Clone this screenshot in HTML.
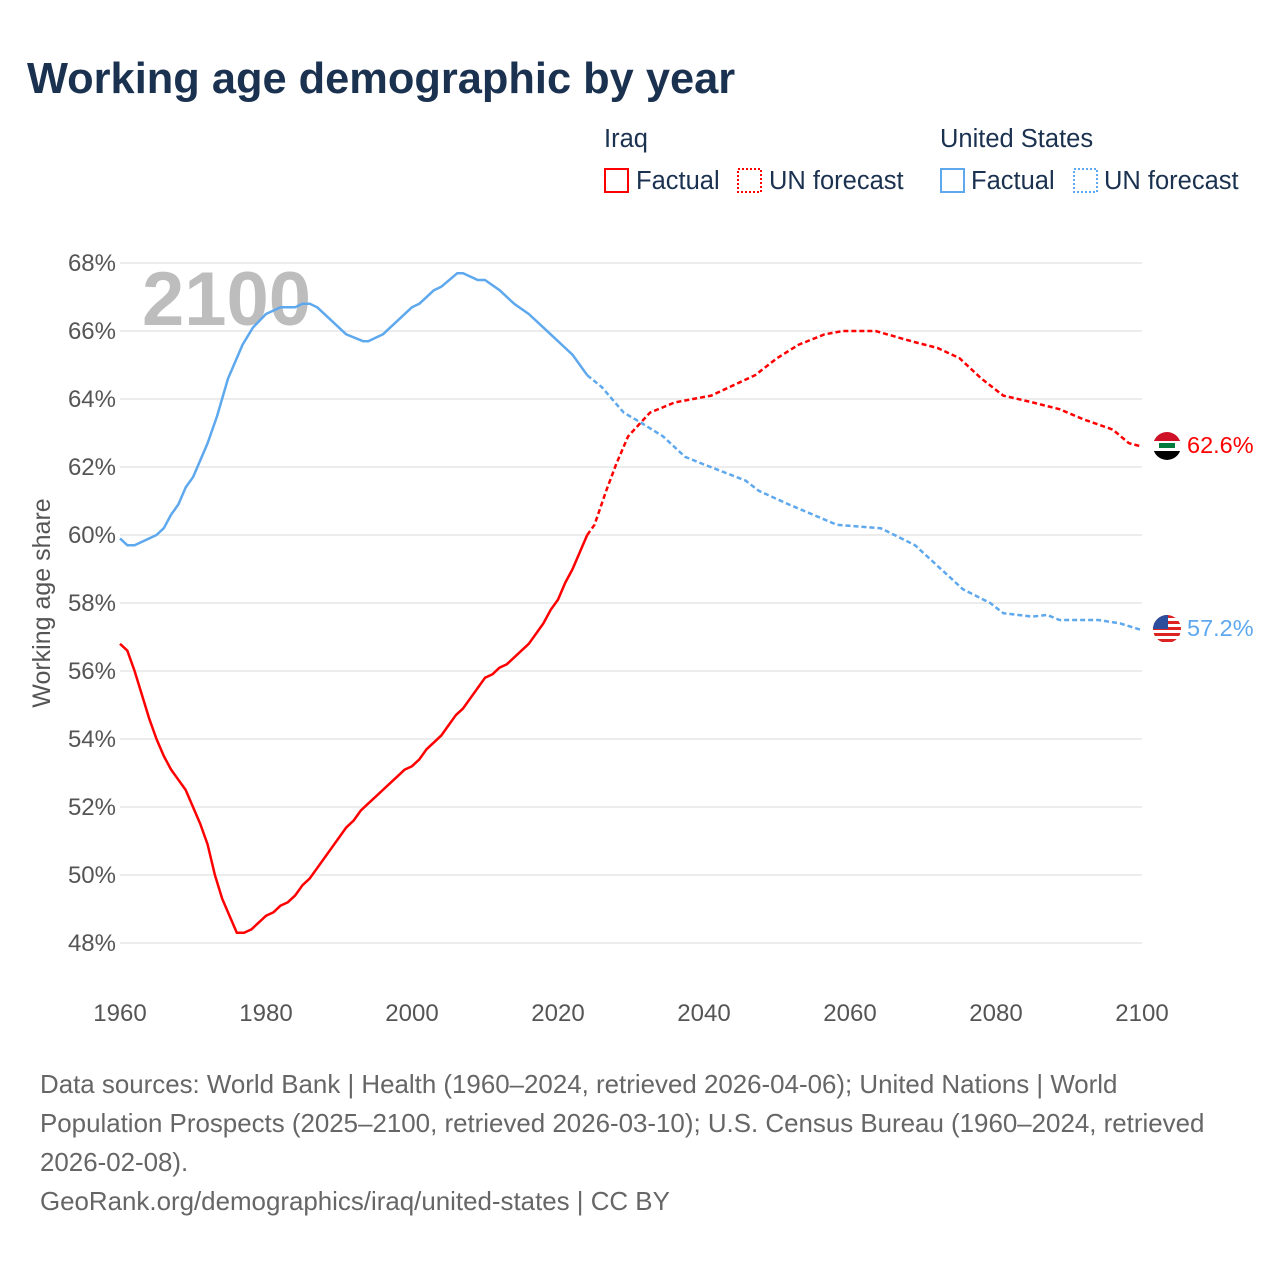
<!DOCTYPE html>
<html><head><meta charset="utf-8"><style>
body{margin:0;background:#fff;font-family:"Liberation Sans",sans-serif;}
svg{display:block}
</style></head><body>
<svg id="chart" width="1280" height="1280" xmlns="http://www.w3.org/2000/svg" font-family="Liberation Sans, sans-serif">
<text x="27" y="93" font-size="43.4" font-weight="bold" fill="#1b3150">Working age demographic by year</text>
<g font-size="25.5" fill="#1b3150">
<text x="604" y="147">Iraq</text>
<text x="940" y="147">United States</text>
<rect x="605" y="169" width="23" height="23" fill="none" stroke="#ff0000" stroke-width="2"/>
<text x="636" y="189">Factual</text>
<rect x="738" y="169" width="23" height="23" fill="none" stroke="#ff0000" stroke-width="2" stroke-dasharray="2,2"/>
<text x="769" y="189">UN forecast</text>
<rect x="941" y="169" width="23" height="23" fill="none" stroke="#5ea8ee" stroke-width="2"/>
<text x="971" y="189">Factual</text>
<rect x="1074" y="169" width="23" height="23" fill="none" stroke="#5ea8ee" stroke-width="2" stroke-dasharray="2,2"/>
<text x="1104" y="189">UN forecast</text>
</g>
<g id="grid"></g>
<text x="142" y="325" font-size="76" font-weight="bold" fill="#bdbdbd">2100</text>
<g id="axes"></g>
<text transform="translate(50,603) rotate(-90)" text-anchor="middle" font-size="25" fill="#555">Working age share</text>
<g id="series"></g>
<g>
<clipPath id="ci"><circle cx="1167" cy="446" r="14"/></clipPath>
<g clip-path="url(#ci)"><rect x="1150" y="430" width="34" height="11" fill="#ce1126"/><rect x="1150" y="441" width="34" height="10" fill="#fff"/><rect x="1150" y="451" width="34" height="12" fill="#000"/><rect x="1159" y="443" width="16" height="5" fill="#007a3d"/></g>
</g>
<g>
<clipPath id="cu"><circle cx="1167" cy="629" r="14"/></clipPath>
<g clip-path="url(#cu)"><rect x="1150" y="613" width="34" height="32" fill="#fff"/>
<rect x="1150" y="615" width="34" height="3" fill="#d22"/><rect x="1150" y="621" width="34" height="3" fill="#d22"/><rect x="1150" y="627" width="34" height="3" fill="#d22"/><rect x="1150" y="633" width="34" height="3" fill="#d22"/><rect x="1150" y="639" width="34" height="3" fill="#d22"/>
<rect x="1150" y="613" width="18" height="16" fill="#2c4e9c"/></g>
</g>
<text x="1187" y="453" font-size="23.5" fill="#ff0000">62.6%</text>
<text x="1187" y="636" font-size="23.5" fill="#5ea8ee">57.2%</text>
<g font-size="25.9" fill="#666">
<text x="40" y="1093">Data sources: World Bank | Health (1960–2024, retrieved 2026-04-06); United Nations | World</text>
<text x="40" y="1132">Population Prospects (2025–2100, retrieved 2026-03-10); U.S. Census Bureau (1960–2024, retrieved</text>
<text x="40" y="1171">2026-02-08).</text>
<text x="40" y="1210">GeoRank.org/demographics/iraq/united-states | CC BY</text>
</g>
</svg>
<script>
const yTicks=[48,50,52,54,56,58,60,62,64,66,68];
const xTicks=[1960,1980,2000,2020,2040,2060,2080,2100];
const iraqFactYears=[1960,1961,1962,1963,1964,1965,1966,1967,1968,1969,1970,1971,1972,1973,1974,1975,1976,1977,1978,1979,1980,1981,1982,1983,1984,1985,1986,1987,1988,1989,1990,1991,1992,1993,1994,1995,1996,1997,1998,1999,2000,2001,2002,2003,2004,2005,2006,2007,2008,2009,2010,2011,2012,2013,2014,2015,2016,2017,2018,2019,2020,2021,2022,2023,2024];
const iraqFactVals=[56.8,56.6,56.0,55.3,54.6,54.0,53.5,53.1,52.8,52.5,52.0,51.5,50.9,50.0,49.3,48.8,48.3,48.3,48.4,48.6,48.8,48.9,49.1,49.2,49.4,49.7,49.9,50.2,50.5,50.8,51.1,51.4,51.6,51.9,52.1,52.3,52.5,52.7,52.9,53.1,53.2,53.4,53.7,53.9,54.1,54.4,54.7,54.9,55.2,55.5,55.8,55.9,56.1,56.2,56.4,56.6,56.8,57.1,57.4,57.8,58.1,58.6,59.0,59.5,60.0];
const iraqFcYears=[2024,2025,2026.6,2028,2029.6,2032.6,2036,2041,2047,2050,2053,2056.5,2059,2063.5,2068.4,2072,2075,2078,2081,2085,2088.7,2092,2096,2098.2,2100];
const iraqFcVals=[60.0,60.3,61.3,62.1,62.9,63.6,63.9,64.1,64.7,65.2,65.6,65.9,66.0,66.0,65.7,65.5,65.2,64.6,64.1,63.9,63.7,63.4,63.1,62.7,62.6];
const usFactYears=[1960,1961,1962,1965,1966,1967,1968,1969,1970,1972,1973.3,1974.8,1976.8,1978.2,1980,1982,1984,1985,1986,1987,1991,1993.3,1994,1996,1998,2000,2001,2003,2004,2006.2,2007,2009,2010,2012,2014,2016,2018,2020,2021,2022,2023,2024];
const usFactVals=[59.9,59.7,59.7,60.0,60.2,60.6,60.9,61.4,61.7,62.7,63.5,64.6,65.6,66.1,66.5,66.7,66.7,66.8,66.8,66.7,65.9,65.7,65.7,65.9,66.3,66.7,66.8,67.2,67.3,67.7,67.7,67.5,67.5,67.2,66.8,66.5,66.1,65.7,65.5,65.3,65.0,64.7];
const usFcYears=[2024,2026,2029,2031.4,2034.4,2037.4,2039.7,2045.7,2047.5,2051.6,2058.2,2064.2,2068.9,2075.5,2079.2,2081,2085,2087,2088.7,2094,2097,2100];
const usFcVals=[64.7,64.35,63.6,63.3,62.9,62.3,62.1,61.6,61.3,60.9,60.3,60.2,59.7,58.4,58.0,57.7,57.6,57.65,57.5,57.5,57.4,57.2];
const X=y=>120+(y-1960)*(1142-120)/140;
const Y=v=>943-(v-48)*34;
const NS="http://www.w3.org/2000/svg";
const grid=document.getElementById('grid'),axes=document.getElementById('axes'),series=document.getElementById('series');
yTicks.forEach(t=>{
 const l=document.createElementNS(NS,'line');
 l.setAttribute('x1',120);l.setAttribute('x2',1142);l.setAttribute('y1',Y(t));l.setAttribute('y2',Y(t));
 l.setAttribute('stroke','#e6e6e6');l.setAttribute('stroke-width','1.5');
 
 
 grid.appendChild(l);
 const tx=document.createElementNS(NS,'text');
 tx.setAttribute('x',116);tx.setAttribute('y',Y(t)+8);tx.setAttribute('text-anchor','end');
 tx.setAttribute('font-size','24');tx.setAttribute('fill','#555');tx.textContent=t+'%';
 
 
 axes.appendChild(tx);
});
xTicks.forEach(t=>{
 const tx=document.createElementNS(NS,'text');
 tx.setAttribute('x',X(t));tx.setAttribute('y',1021);tx.setAttribute('text-anchor','middle');
 tx.setAttribute('font-size','24');tx.setAttribute('fill','#555');tx.textContent=t;
 
 
 axes.appendChild(tx);
});
function line(xs,vs,color,dash,name){
 const p=document.createElementNS(NS,'polyline');
 p.setAttribute('points',xs.map((x,i)=>X(x).toFixed(1)+','+Y(vs[i]).toFixed(1)).join(' '));
 p.setAttribute('fill','none');p.setAttribute('stroke',color);p.setAttribute('stroke-width','2.5');
 p.setAttribute('stroke-linejoin','round');
 if(dash)p.setAttribute('stroke-dasharray','5,3');
 
 
 series.appendChild(p);
}
line(usFactYears,usFactVals,'#5ea8ee',false,'us-factual-line');
line(usFcYears,usFcVals,'#5ea8ee',true,'us-forecast-line');
line(iraqFactYears,iraqFactVals,'#ff0000',false,'iraq-factual-line');
line(iraqFcYears,iraqFcVals,'#ff0000',true,'iraq-forecast-line');
</script>
</body></html>
